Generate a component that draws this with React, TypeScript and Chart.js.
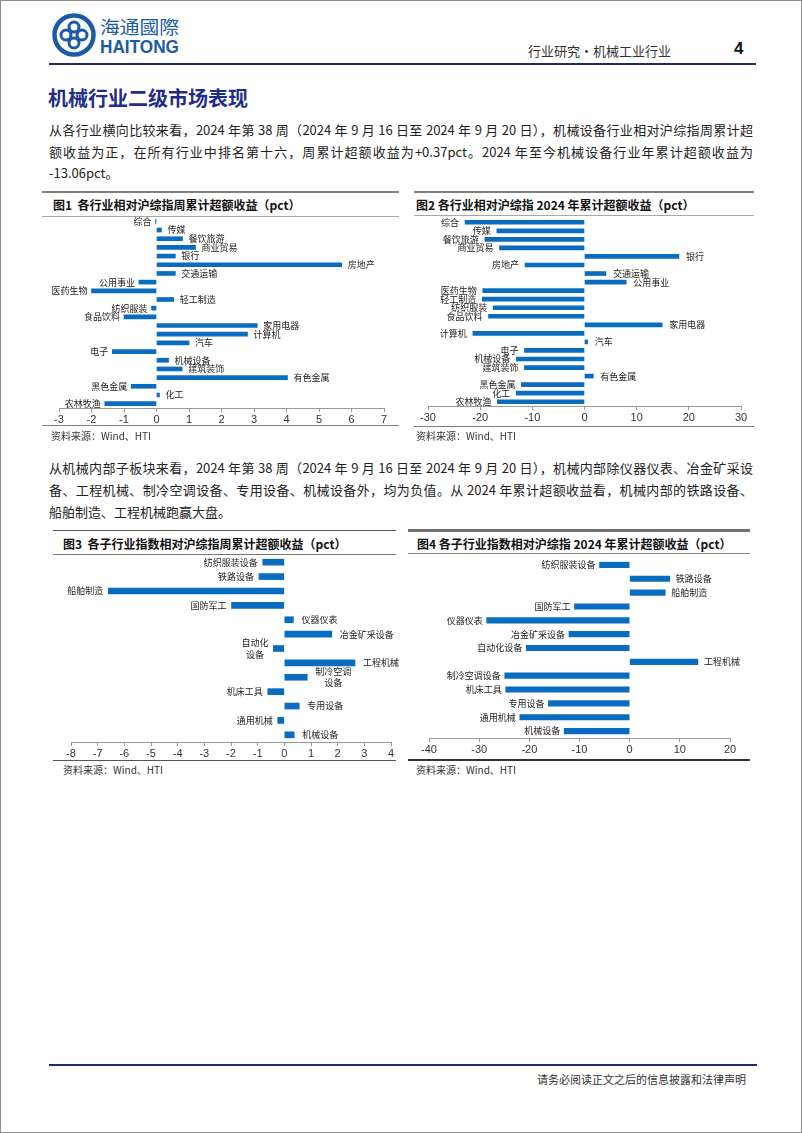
import React, { useEffect, useRef } from "react";
import { Chart, registerables } from "chart.js";

Chart.register(...registerables);

const FONT_CJK = '"Noto Sans CJK SC", "Noto Sans", sans-serif';
const FONT_NUM = '"Liberation Sans", Arial, sans-serif';
const BAR_COLOR = "#0a6cbf";

// ---------- Figure 1 & 2: industries ----------
const industries = [
  "综合", "传媒", "餐饮旅游", "商业贸易", "银行", "房地产", "交通运输", "公用事业",
  "医药生物", "轻工制造", "纺织服装", "食品饮料", "家用电器", "计算机", "汽车", "电子",
  "机械设备", "建筑装饰", "有色金属", "黑色金属", "化工", "农林牧渔",
];
const weeklyExcess = [
  -0.03, 0.15, 0.8, 1.2, 0.58, 5.7, 0.58, -0.54,
  -2.0, 0.53, -0.15, -1.0, 3.1, 2.8, 1.0, -1.36,
  0.37, 0.79, 4.03, -0.78, 0.09, -1.59,
];
const ytdExcess = [
  -22.9, -16.8, -19.1, -16.3, 18.1, -11.4, 4.1, 8.0,
  -19.5, -19.6, -17.5, -18.4, 14.9, -21.4, 0.6, -11.5,
  -13.06, -11.5, 1.7, -12.1, -13.1, -16.7,
];

// ---------- Figure 3 & 4: machinery sub-sectors ----------
const subSectors = [
  "纺织服装设备", "铁路设备", "船舶制造", "国防军工", "仪器仪表", "冶金矿采设备",
  "自动化设备", "工程机械", "制冷空调设备", "机床工具", "专用设备", "通用机械", "机械设备",
];
const subWeeklyExcess = [-0.81, -0.95, -6.6, -1.98, 0.34, 1.78, -0.41, 2.65, 0.86, -0.62, 0.56, -0.25, 0.37];
const subYtdExcess = [-6.0, 8.0, 7.1, -11.0, -28.5, -12.1, -20.6, 13.6, -24.9, -24.7, -16.2, -21.9, -13.06];

const wrap3: Record<string, string[]> = {
  "自动化设备": ["自动化", "设备"],
  "制冷空调设备": ["制冷空调", "设备"],
};

type HBarProps = {
  left: number; top: number; width: number; height: number;
  padL: number; padR: number; padT: number;
  cats: string[]; vals: number[];
  min: number; max: number; step: number;
  thickness: number;
  gapPos: number; gapNeg: number;
  wrap?: Record<string, string[]>;
};

function HBar(p: HBarProps) {
  const ref = useRef<HTMLCanvasElement>(null);
  useEffect(() => {
    if (!ref.current) return;
    const labelPlugin = {
      id: "barLabels",
      afterDatasetsDraw(chart: any) {
        const ctx = chart.ctx as CanvasRenderingContext2D;
        const meta = chart.getDatasetMeta(0);
        ctx.save();
        ctx.font = `9px ${FONT_CJK}`;
        ctx.fillStyle = "#222";
        ctx.textBaseline = "middle";
        ctx.textAlign = "center";
        meta.data.forEach((el: any, i: number) => {
          const v = p.vals[i];
          const name = p.cats[i];
          const lines = (p.wrap && p.wrap[name]) || [name];
          const lh = 11.5;
          const w = Math.max(...lines.map((t) => ctx.measureText(t).width));
          const y0 = el.y - ((lines.length - 1) * lh) / 2;
          const cx = v >= 0 ? el.x + p.gapPos + w / 2 : el.x - p.gapNeg - w / 2;
          lines.forEach((t, j) => ctx.fillText(t, cx, y0 + j * lh));
        });
        ctx.restore();
      },
    };
    const chart = new Chart(ref.current, {
      type: "bar",
      data: {
        labels: p.cats,
        datasets: [
          {
            data: p.vals,
            backgroundColor: BAR_COLOR,
            borderWidth: 0,
            barThickness: p.thickness,
          },
        ],
      },
      options: {
        indexAxis: "y",
        responsive: false,
        animation: false,
        layout: { padding: { left: p.padL, right: p.padR, top: p.padT, bottom: 0 } },
        plugins: { legend: { display: false }, tooltip: { enabled: false } },
        scales: {
          x: {
            type: "linear",
            min: p.min,
            max: p.max,
            ticks: {
              stepSize: p.step,
              color: "#333",
              font: { family: FONT_NUM, size: 11 },
              padding: 1,
              maxRotation: 0,
              autoSkip: false,
            },
            grid: { drawOnChartArea: false, tickLength: 4, color: "#9a9a9a" },
            border: { color: "#9a9a9a", width: 1 },
            afterFit: (s: any) => {
              s.height = 18;
            },
          },
          y: { display: false },
        },
      } as any,
      plugins: [labelPlugin],
    });
    return () => chart.destroy();
  }, []);
  return (
    <canvas
      ref={ref}
      width={p.width}
      height={p.height}
      style={{ position: "absolute", left: p.left, top: p.top, width: p.width, height: p.height }}
    />
  );
}

function T(props: {
  x: number; y: number; size: number; children: React.ReactNode;
  bold?: boolean; color?: string; family?: string; right?: boolean;
}) {
  const h = Math.round(props.size * 1.4);
  const style: React.CSSProperties = {
    position: "absolute",
    top: props.y - h / 2,
    lineHeight: `${h}px`,
    height: h,
    fontSize: props.size,
    fontWeight: props.bold ? 700 : 400,
    color: props.color || "#222",
    fontFamily: props.family || FONT_CJK,
    whiteSpace: "nowrap",
  };
  if (props.right) style.right = 802 - props.x;
  else style.left = props.x;
  return <div style={style}>{props.children}</div>;
}

function Line(props: { x: number; y: number; w: number; h: number; c: string }) {
  return (
    <div
      style={{
        position: "absolute",
        left: props.x,
        top: props.y,
        width: props.w,
        height: props.h,
        background: props.c,
      }}
    />
  );
}

function Para(props: { top: number; lh: number; lines: string[] }) {
  return (
    <div style={{ position: "absolute", left: 48, top: props.top, width: 704, fontFamily: FONT_CJK, fontSize: 13, color: "#222" }}>
      {props.lines.map((l, i) => (
        <div
          key={i}
          style={{
            height: props.lh,
            lineHeight: `${props.lh}px`,
            textAlign: "justify",
            textAlignLast: i < props.lines.length - 1 ? "justify" : "left",
            overflow: "hidden",
          }}
        >
          {l}
        </div>
      ))}
    </div>
  );
}

const para1 = [
  "从各行业横向比较来看，2024 年第 38 周（2024 年 9 月 16 日至 2024 年 9 月 20 日），机械设备行业相对沪综指周累计超",
  "额收益为正，在所有行业中排名第十六，周累计超额收益为+0.37pct。2024 年至今机械设备行业年累计超额收益为",
  "-13.06pct。",
];
const para2 = [
  "从机械内部子板块来看，2024 年第 38 周（2024 年 9 月 16 日至 2024 年 9 月 20 日），机械内部除仪器仪表、冶金矿采设",
  "备、工程机械、制冷空调设备、专用设备、机械设备外，均为负值。从 2024 年累计超额收益看，机械内部的铁路设备、",
  "船舶制造、工程机械跑赢大盘。",
];

function Logo() {
  const blue = "#1b5aa5";
  return (
    <svg width={150} height={52} style={{ position: "absolute", left: 44, top: 9 }}>
      <circle cx={29} cy={25} r={19.5} stroke={blue} strokeWidth={4.5} fill="none" />
      <circle cx={29} cy={17} r={5} stroke={blue} strokeWidth={3} fill="none" />
      <circle cx={37} cy={25} r={5} stroke={blue} strokeWidth={3} fill="none" />
      <circle cx={29} cy={33} r={5} stroke={blue} strokeWidth={3} fill="none" />
      <circle cx={21} cy={25} r={5} stroke={blue} strokeWidth={3} fill="none" />
      <text x={55} y={24} fontSize={18} fill={blue} fontFamily={FONT_CJK} textLength={79} lengthAdjust="spacingAndGlyphs">
        海通國際
      </text>
      <text x={55} y={43} fontSize={19} fontWeight={700} fill={blue} fontFamily={FONT_NUM} textLength={79} lengthAdjust="spacingAndGlyphs">
        HAITONG
      </text>
    </svg>
  );
}

export default function App() {
  return (
    <div
      style={{
        position: "absolute",
        left: 0,
        top: 0,
        width: 802,
        height: 1133,
        background: "#fff",
        border: "1px solid #8c8c8c",
        boxSizing: "border-box",
        overflow: "hidden",
      }}
    >
      <Logo />
      <T x={527} y={50} size={13} color="#333">行业研究•机械工业行业</T>
      <T x={733} y={48} size={17} bold color="#111" family={FONT_NUM}>4</T>
      <Line x={48} y={62} w={707} h={2} c="#1f2a6e" />

      <T x={47} y={97} size={20} bold color="#1f2d8a">机械行业二级市场表现</T>
      <Para top={118} lh={21.5} lines={para1} />

      {/* Figure 1 */}
      <Line x={41} y={189.5} w={357} h={2} c="#7f7f7f" />
      <T x={52} y={203} size={12} bold color="#111">图1&nbsp;&nbsp;各行业相对沪综指周累计超额收益（pct）</T>
      <Line x={41} y={214.5} w={357} h={1} c="#a6a6a6" />
      <HBar left={41} top={210} width={357} height={215} padL={17} padR={15} padT={6}
        cats={industries} vals={weeklyExcess} min={-3} max={7} step={1} thickness={4} gapPos={6} gapNeg={4} />
      <Line x={41} y={424} w={357} h={1} c="#7f7f7f" />
      <T x={50} y={435} size={10} color="#333">资料来源：Wind、HTI</T>

      {/* Figure 2 */}
      <Line x={413} y={189.5} w={340} h={2} c="#7f7f7f" />
      <T x={415} y={203} size={12} bold color="#111">图2 各行业相对沪综指 2024 年累计超额收益（pct）</T>
      <Line x={413} y={214} w={340} h={1} c="#a6a6a6" />
      <HBar left={413} top={211} width={344} height={212} padL={14} padR={17} padT={6}
        cats={industries} vals={ytdExcess} min={-30} max={30} step={10} thickness={4} gapPos={7} gapNeg={6} />
      <Line x={413} y={424.5} w={340} h={1} c="#7f7f7f" />
      <T x={415} y={435} size={10} color="#333">资料来源：Wind、HTI</T>

      <Para top={456} lh={22} lines={para2} />

      {/* Figure 3 */}
      <Line x={52} y={528.5} w={343} h={1} c="#555" />
      <T x={62} y={542} size={12} bold color="#111">图3&nbsp;&nbsp;各子行业指数相对沪综指周累计超额收益（pct）</T>
      <Line x={52} y={553} w={343} h={1} c="#777" />
      <HBar left={45} top={548} width={360} height={211} padL={25} padR={15} padT={6}
        cats={subSectors} vals={subWeeklyExcess} min={-8} max={4} step={1} thickness={6} gapPos={8} gapNeg={5} wrap={wrap3} />
      <Line x={52} y={758.5} w={343} h={1} c="#555" />
      <T x={62} y={769} size={10} color="#333">资料来源：Wind、HTI</T>

      {/* Figure 4 */}
      <Line x={407} y={527.5} w={342} h={3} c="#707070" />
      <T x={416} y={542} size={12} bold color="#111">图4 各子行业指数相对沪综指 2024 年累计超额收益（pct）</T>
      <Line x={407} y={552} w={342} h={1} c="#888" />
      <HBar left={407} top={551} width={350} height={204} padL={21} padR={28} padT={6}
        cats={subSectors} vals={subYtdExcess} min={-40} max={20} step={10} thickness={5.5} gapPos={6} gapNeg={4} />
      <Line x={407} y={757.5} w={342} h={2} c="#333" />
      <T x={415} y={769} size={10} color="#333">资料来源：Wind、HTI</T>

      {/* Footer */}
      <Line x={48} y={1063} w={708} h={2} c="#1f2a6e" />
      <T x={747} y={1078} size={11} color="#333" right>请务必阅读正文之后的信息披露和法律声明</T>
    </div>
  );
}
